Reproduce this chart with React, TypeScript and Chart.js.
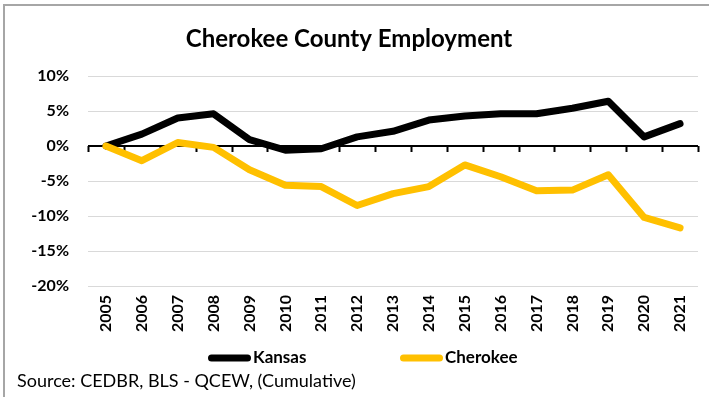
import React, { useEffect, useRef } from "react";
import { Chart, registerables } from "chart.js";

Chart.register(...registerables);

const years = ["2005", "2006", "2007", "2008", "2009", "2010", "2011", "2012", "2013", "2014", "2015", "2016", "2017", "2018", "2019", "2020", "2021"];
const kansas = [0, 1.7, 4.0, 4.6, 0.9, -0.6, -0.4, 1.3, 2.1, 3.7, 4.3, 4.6, 4.6, 5.4, 6.4, 1.3, 3.2];
const cherokee = [0, -2.1, 0.5, -0.2, -3.4, -5.6, -5.8, -8.5, -6.8, -5.8, -2.7, -4.4, -6.4, -6.3, -4.1, -10.2, -11.7];
const seriesNames = ["Kansas", "Cherokee"];
const seriesColors = ["#000000", "#FFC000"];
const yMin = -20;
const yMax = 10;
const yStep = 5;
const titleText = "Cherokee County Employment";
const sourceText = "Source: CEDBR, BLS - QCEW, (Cumulative)";

const FONT = '"Liberation Sans Narrow", "Lato", "DejaVu Sans", sans-serif';

const decor = {
  id: "decor",
  beforeDraw(chart: any) {
    const ctx = chart.ctx;
    ctx.save();
    ctx.fillStyle = "#ffffff";
    ctx.fillRect(0, 0, chart.width, chart.height);
    ctx.fillStyle = "#a6a6a6";
    ctx.fillRect(3, 4, 2, chart.height - 4);
    ctx.fillRect(3, 4, chart.width - 3, 2);
    ctx.restore();
  },
  beforeDatasetsDraw(chart: any) {
    const { ctx, scales } = chart;
    const x = scales.x;
    const y = scales.y;
    const y0 = y.getPixelForValue(0);
    ctx.save();
    ctx.strokeStyle = "#000000";
    ctx.lineWidth = 2;
    ctx.beginPath();
    ctx.moveTo(x.left, y0);
    ctx.lineTo(x.right, y0);
    const n = years.length;
    for (let i = 0; i <= n; i++) {
      let px;
      if (i === 0) px = x.left;
      else if (i === n) px = x.right;
      else px = (x.getPixelForValue(i - 1) + x.getPixelForValue(i)) / 2;
      px = Math.round(px) + 0.5;
      ctx.moveTo(px, y0);
      ctx.lineTo(px, y0 + 6);
    }
    ctx.stroke();
    ctx.restore();
  },
  afterDraw(chart: any) {
    const ctx = chart.ctx;
    ctx.save();
    // legend
    const legendX = [208, 400];
    const legendY = 358;
    ctx.font = "bold 17px " + FONT;
    ctx.textBaseline = "middle";
    ctx.textAlign = "left";
    chart.data.datasets.forEach((ds: any, i: number) => {
      const bx = legendX[i];
      ctx.fillStyle = ds.borderColor;
      ctx.beginPath();
      const w = 43, h = 7, r = 3.5;
      ctx.moveTo(bx + r, legendY - h / 2);
      ctx.lineTo(bx + w - r, legendY - h / 2);
      ctx.arc(bx + w - r, legendY, r, -Math.PI / 2, Math.PI / 2);
      ctx.lineTo(bx + r, legendY + h / 2);
      ctx.arc(bx + r, legendY, r, Math.PI / 2, (3 * Math.PI) / 2);
      ctx.closePath();
      ctx.fill();
      ctx.fillStyle = "#000000";
      ctx.fillText(ds.label, bx + w + 2, legendY);
    });
    // source
    ctx.font = "18px " + FONT;
    ctx.fillStyle = "#000000";
    ctx.fillText(sourceText, 17, 381);
    ctx.restore();
  },
};

export default function App() {
  const ref = useRef<HTMLCanvasElement | null>(null);
  useEffect(() => {
    document.body.style.margin = "0";
    const canvas = ref.current;
    if (!canvas) return;
    const chart = new Chart(canvas, {
      type: "line",
      data: {
        labels: years,
        datasets: [
          {
            label: seriesNames[0],
            data: kansas,
            borderColor: seriesColors[0],
            backgroundColor: seriesColors[0],
            borderWidth: 7,
            pointRadius: 0,
            borderCapStyle: "round",
            borderJoinStyle: "round",
            tension: 0,
            order: 1,
          },
          {
            label: seriesNames[1],
            data: cherokee,
            borderColor: seriesColors[1],
            backgroundColor: seriesColors[1],
            borderWidth: 7,
            pointRadius: 0,
            borderCapStyle: "round",
            borderJoinStyle: "round",
            tension: 0,
            order: 0,
          },
        ],
      },
      options: {
        responsive: false,
        animation: false,
        devicePixelRatio: 1,
        layout: { padding: { left: 0, right: 11, top: 0, bottom: 0 } },
        plugins: {
          legend: { display: false },
          tooltip: { enabled: false },
          title: {
            display: true,
            text: titleText,
            color: "#000000",
            font: { family: FONT, size: 24, weight: "bold", lineHeight: 1.2 },
            padding: { top: 25, bottom: 22.2 },
          },
        },
        scales: {
          x: {
            offset: true,
            grid: { display: false, drawTicks: false },
            border: { display: false },
            ticks: {
              color: "#000000",
              font: { family: FONT, size: 16, weight: "bold" },
              maxRotation: 90,
              minRotation: 90,
              padding: 9,
              autoSkip: false,
            },
            afterFit(scale: any) {
              scale.height = 111;
            },
          },
          y: {
            min: yMin,
            max: yMax,
            border: { display: false },
            grid: { color: "#d9d9d9", lineWidth: 1, drawTicks: false },
            ticks: {
              stepSize: yStep,
              color: "#000000",
              padding: 19,
              font: { family: FONT, size: 16, weight: "bold" },
              callback: (v: any) => v + "%",
            },
            afterFit(scale: any) {
              scale.width = 88;
            },
          },
        },
      },
      plugins: [decor],
    });
    return () => chart.destroy();
  }, []);
  return (
    <div style={{ width: 709, height: 397 }}>
      <canvas ref={ref} width={709} height={397} style={{ display: "block" }} />
    </div>
  );
}
